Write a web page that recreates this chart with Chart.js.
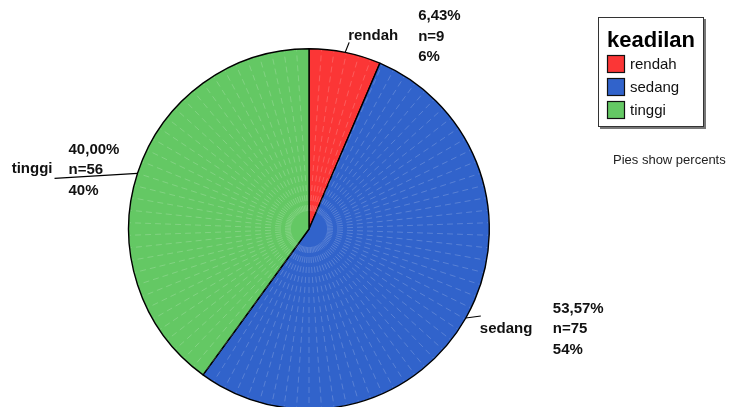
<!DOCTYPE html>
<html>
<head>
<meta charset="utf-8">
<script src="https://cdn.jsdelivr.net/npm/chart.js@4/dist/chart.umd.min.js"></script>
<style>
  html, body { margin: 0; padding: 0; background: #fff; overflow: hidden; }
  #wrap { position: relative; width: 740px; height: 458px; }
</style>
</head>
<body>
<div id="wrap"><canvas id="chart" width="740" height="458"></canvas></div>
<script>
// data
const categories = ['rendah', 'sedang', 'tinggi'];
const counts = [9, 75, 56];
const legendTitle = 'keadilan';
const footNote = 'Pies show percents';

const colors = ['#fb3636', '#3163cb', '#64c864'];

// label placement, relative to the point where the slice's mid-angle meets the rim
const labelLayout = [
  { leader: [4, -10], name: [53, -17], nameAlign: 'right', stats: [73, -16] },
  { leader: [15, -2], name: [14, 11], nameAlign: 'left', stats: [87, 11] },
  { leader: [-83, 5], name: [-85, -4], nameAlign: 'right', stats: [-69, -3] }
];

const total = counts.reduce((a, b) => a + b, 0);
const fmt2 = v => v.toFixed(2).replace('.', ',');

// faint radial streaks over the slices (texture of the original rendering)
const streakPlugin = {
  id: 'streaks',
  afterDatasetsDraw(chart) {
    const arcs = chart.getDatasetMeta(0).data;
    if (!arcs.length) return;
    const { x, y, outerRadius } = arcs[0];
    const ctx = chart.ctx;
    ctx.save();
    ctx.beginPath();
    ctx.arc(x, y, outerRadius - 1, 0, Math.PI * 2);
    ctx.clip();
    ctx.strokeStyle = 'rgba(255,255,255,0.28)';
    ctx.lineWidth = 0.7;
    ctx.setLineDash([6, 4]);
    const step = 4 * Math.PI / 180;
    const r0 = outerRadius * 0.1;
    for (let a = -Math.PI / 2 + step; a < 1.5 * Math.PI - 0.01; a += step) {
      ctx.beginPath();
      ctx.moveTo(x + r0 * Math.cos(a), y + r0 * Math.sin(a));
      ctx.lineTo(x + outerRadius * Math.cos(a), y + outerRadius * Math.sin(a));
      ctx.stroke();
    }
    ctx.restore();
  }
};

// slice labels with leader lines
const labelPlugin = {
  id: 'sliceLabels',
  afterDraw(chart) {
    const ctx = chart.ctx;
    const arcs = chart.getDatasetMeta(0).data;
    ctx.save();
    arcs.forEach((arc, i) => {
      const mid = (arc.startAngle + arc.endAngle) / 2;
      const px = arc.x + arc.outerRadius * Math.cos(mid);
      const py = arc.y + arc.outerRadius * Math.sin(mid);
      const L = labelLayout[i];
      ctx.strokeStyle = '#000';
      ctx.lineWidth = 1.2;
      ctx.setLineDash([]);
      ctx.beginPath();
      ctx.moveTo(px, py);
      ctx.lineTo(px + L.leader[0], py + L.leader[1]);
      ctx.stroke();

      ctx.fillStyle = '#111';
      ctx.font = 'bold 15px "Liberation Sans", Arial, sans-serif';
      ctx.textBaseline = 'middle';
      ctx.textAlign = L.nameAlign;
      ctx.fillText(categories[i], px + L.name[0], py + L.name[1]);

      const pct = counts[i] / total * 100;
      const lines = [fmt2(pct) + '%', 'n=' + counts[i], Math.round(pct) + '%'];
      ctx.textAlign = 'left';
      lines.forEach((t, k) => {
        ctx.fillText(t, px + L.stats[0], py + L.stats[1] + (k - 1) * 20.5);
      });
    });

    // legend box
    const bx = 598, by = 17, bw = 106, bh = 110;
    ctx.fillStyle = '#777';
    ctx.fillRect(bx + 2, by + 2, bw, bh);
    ctx.fillStyle = '#fff';
    ctx.fillRect(bx, by, bw, bh);
    ctx.strokeStyle = '#333';
    ctx.lineWidth = 1;
    ctx.strokeRect(bx + 0.5, by + 0.5, bw - 1, bh - 1);

    ctx.fillStyle = '#000';
    ctx.font = 'bold 22px "Liberation Sans", Arial, sans-serif';
    ctx.textAlign = 'left';
    ctx.textBaseline = 'alphabetic';
    ctx.fillText(legendTitle, 607, 47);

    ctx.font = '15px "Liberation Sans", Arial, sans-serif';
    ctx.textBaseline = 'middle';
    categories.forEach((c, i) => {
      const sy = 55 + i * 23;
      ctx.fillStyle = colors[i];
      ctx.fillRect(607, sy, 18, 18);
      ctx.strokeStyle = '#111';
      ctx.lineWidth = 1.2;
      ctx.strokeRect(607.5, sy + 0.5, 17, 17);
      ctx.fillStyle = '#111';
      ctx.fillText(c, 630, sy + 9.5);
    });

    ctx.font = '13px "Liberation Sans", Arial, sans-serif';
    ctx.fillStyle = '#222';
    ctx.fillText(footNote, 613, 160);
    ctx.restore();
  }
};

new Chart(document.getElementById('chart'), {
  type: 'pie',
  data: {
    labels: categories,
    datasets: [{
      data: counts,
      backgroundColor: colors,
      borderColor: '#000',
      borderWidth: 1.4
    }]
  },
  options: {
    responsive: false,
    animation: false,
    layout: { padding: { left: 128, right: 250, top: 48, bottom: 48 } },
    plugins: { legend: { display: false }, tooltip: { enabled: false } }
  },
  plugins: [streakPlugin, labelPlugin]
});
</script>
</body>
</html>
